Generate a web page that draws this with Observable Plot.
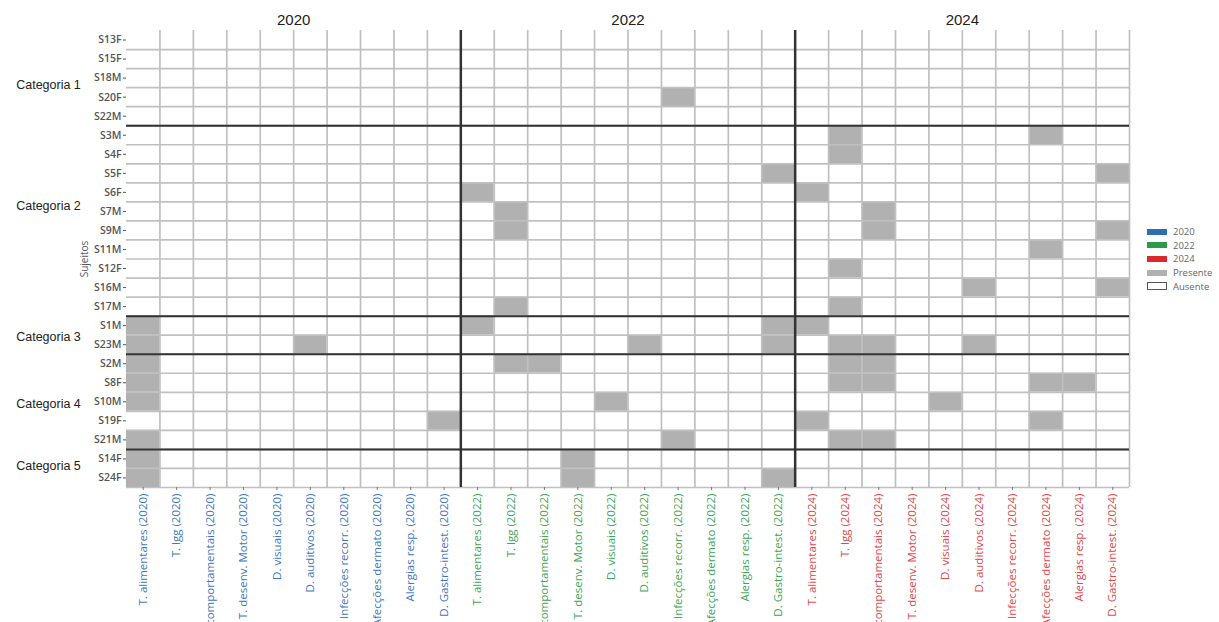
<!DOCTYPE html>
<html><head><meta charset="utf-8">
<script src="https://cdn.jsdelivr.net/npm/d3@7"></script>
<script src="https://cdn.jsdelivr.net/npm/@observablehq/plot@0.6"></script>
<style>
html,body{margin:0;padding:0;background:#fff;overflow:hidden}
#wrap{position:relative;width:1219px;height:622px}
#legend{position:absolute;left:1147px;top:225px;font:9.5px "Open Sans",sans-serif;color:#666}
.item{display:flex;align-items:center;height:13.6px}
.sw{width:20px;height:6px;margin-right:6px;box-sizing:border-box}
</style></head><body><div id="wrap"><div id="legend"></div></div>
<script>
// ---- data ----
const years = ["2020", "2022", "2024"];
const conditions = ["T. alimentares", "T. lgg", "T. comportamentais", "T. desenv. Motor", "D. visuais",
  "D. auditivos", "Infecções recorr.", "Afecções dermato", "Alergias resp.", "D. Gastro-intest."];
const subjects = ["S13F","S15F","S18M","S20F","S22M","S3M","S4F","S5F","S6F","S7M","S9M","S11M","S12F",
  "S16M","S17M","S1M","S23M","S2M","S8F","S10M","S19F","S21M","S14F","S24F"];
const categories = ["Categoria 1", "Categoria 2", "Categoria 3", "Categoria 4", "Categoria 5"];
const categorySizes = [5, 10, 2, 5, 2];
// presence per subject (row order above), one char per condition: 1 = Presente, 0 = Ausente
const presence2020 = [
  "0000000000","0000000000","0000000000","0000000000","0000000000",
  "0000000000","0000000000","0000000000","0000000000","0000000000","0000000000","0000000000","0000000000","0000000000","0000000000",
  "1000000000","1000010000",
  "1000000000","1000000000","1000000000","0000000001","1000000000",
  "1000000000","1000000000"];
const presence2022 = [
  "0000000000","0000000000","0000000000","0000001000","0000000000",
  "0000000000","0000000000","0000000001","1000000000","0100000000","0100000000","0000000000","0000000000","0000000000","0100000000",
  "1000000001","0000010001",
  "0110000000","0000000000","0000100000","0000000000","0000001000",
  "0001000000","0001000001"];
const presence2024 = [
  "0000000000","0000000000","0000000000","0000000000","0000000000",
  "0100000100","0100000000","0000000001","1000000000","0010000000","0010000001","0000000100","0100000000","0000010001","0100000000",
  "1000000000","0110010000",
  "0110000000","0110000110","0000100000","1000000100","0110000000",
  "0000000000","0000000000"];
const presence = [presence2020, presence2022, presence2024];
const yearColors = {"2020": "#3d78bd", "2022": "#3da556", "2024": "#e2474b"};
const legendColors = {"2020": "#2c6db4", "2022": "#2e9a49", "2024": "#d92b2b"};

// ---- derived ----
const cells = [];
years.forEach((yr, k) => presence[k].forEach((row, i) => [...row].forEach((c, j) =>
  cells.push({xi: k * 10 + j, yi: i, present: c === "1"}))));
const nCols = years.length * conditions.length;
const nRows = subjects.length;
const boundaries = d3.cumsum(categorySizes).slice(0, -1);
const starts = [0, ...d3.cumsum(categorySizes)].slice(0, -1);
const catNudge = [0.38, -0.8, 0.1, 0.1, -0.15];
const catPos = categories.map((c, i) => ({name: c, y: starts[i] + categorySizes[i] / 2 + catNudge[i]}));

const marks = [
  Plot.rect(cells, {x1: "xi", x2: d => d.xi + 1, y1: "yi", y2: d => d.yi + 1,
    fill: d => d.present ? "#b1b1b1" : "white"}),
  Plot.ruleX(d3.range(1, nCols + 1), {y1: 0, y2: nRows, stroke: "#c0c0c0", strokeWidth: 1.7}),
  Plot.ruleY(d3.range(1, nRows + 1), {x1: 0, x2: nCols, stroke: "#c0c0c0", strokeWidth: 1.7}),
  Plot.ruleY(boundaries, {x1: 0, x2: nCols, stroke: "#333", strokeWidth: 2}),
  Plot.ruleX([10, 20], {y1: 0, y2: nRows, stroke: "#333", strokeWidth: 2.5}),
  Plot.axisY({ticks: d3.range(nRows).map(i => i + 0.5), tickFormat: v => subjects[Math.floor(v)],
    tickSize: 3, tickPadding: 2, fontSize: 10.5, fontWeight: 600, color: "#555", label: null}),
  Plot.axisX({ticks: d3.range(nCols).map(i => i + 0.5), tickFormat: () => "", tickSize: 3,
    color: "#777", label: null}),
  Plot.text(years, {x: (d, i) => i * 10 + 5, y: 0, dy: -10, text: d => d, fontSize: 15,
    fontFamily: "Liberation Sans, Arial, sans-serif", fill: "#222"}),
  Plot.text(catPos, {x: 0, y: "y", dx: -78, text: "name", fontSize: 12.5,
    fontFamily: "Liberation Sans, Arial, sans-serif", fill: "#222"}),
  Plot.text(["Sujeitos"], {x: 0, y: 12, dx: -42, rotate: -90, text: d => d, fontSize: 10, fill: "#555"})
];
years.forEach((yr, k) => {
  marks.push(Plot.text(conditions, {x: (d, i) => k * 10 + i + 0.5, y: nRows, dy: 6, rotate: -90,
    textAnchor: "end", text: d => `${d} (${yr})`, fontSize: 11.5, fill: yearColors[yr]}));
});

const chart = Plot.plot({
  width: 1219, height: 622,
  marginLeft: 126, marginRight: 90, marginTop: 30, marginBottom: 135,
  x: {domain: [0, nCols]},
  y: {domain: [0, nRows], reverse: true},
  style: {fontFamily: "Open Sans, sans-serif", background: "white"},
  marks
});
document.getElementById("wrap").prepend(chart);

const legend = document.getElementById("legend");
const items = [
  ...years.map(y => ({label: y, style: `background:${legendColors[y]}`})),
  {label: "Presente", style: "background:#b1b1b1"},
  {label: "Ausente", style: "background:white;border:1.5px solid #555;height:8px"}
];
for (const it of items) {
  const row = document.createElement("div"); row.className = "item";
  row.innerHTML = `<span class="sw" style="${it.style}"></span><span>${it.label}</span>`;
  legend.appendChild(row);
}
</script></body></html>
